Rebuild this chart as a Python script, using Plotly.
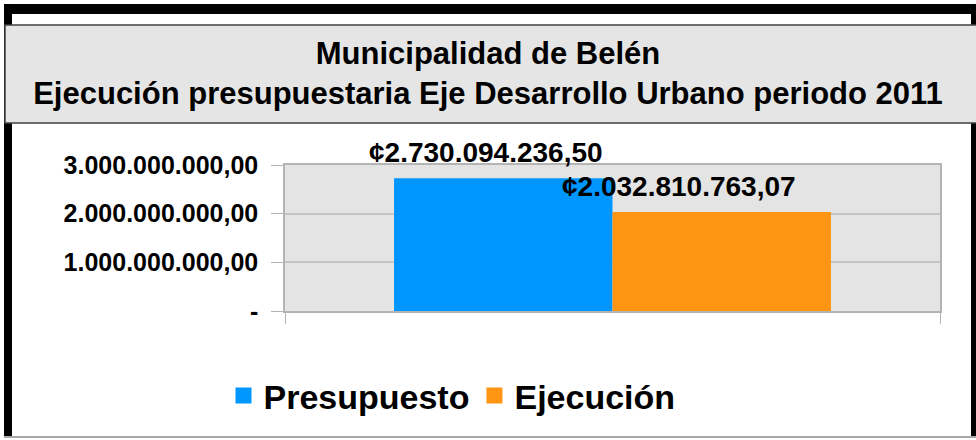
import plotly.graph_objects as go

# ---- data ----
categories = ["Eje Desarrollo Urbano"]
series_names = ["Presupuesto", "Ejecución"]
presupuesto = [2730094236.50]
ejecucion = [2032810763.07]
value_labels = ["¢2.730.094.236,50", "¢2.032.810.763,07"]
y_tickvals = [0, 1000000000, 2000000000, 3000000000]
y_ticktext = ["-", "1.000.000.000,00", "2.000.000.000,00", "3.000.000.000,00"]
title_text = "Municipalidad de Belén<br>Ejecución presupuestaria Eje Desarrollo Urbano periodo 2011"

colors = ["#0096FF", "#FF9512"]
FONT = "Liberation Sans, Arial, sans-serif"

W, H = 976, 440
ML, MR, MT, MB = 285, 36, 165, 129
PW, PH = W - ML - MR, H - MT - MB


def fx(px):
    return (px - ML) / PW


def fy(py):
    return (H - MB - py) / PH


fig = go.Figure()
for name, vals, col in zip(series_names, [presupuesto, ejecucion], colors):
    fig.add_trace(go.Bar(x=categories, y=vals, name=name, showlegend=False,
                         marker=dict(color=col, line=dict(width=0))))
# legend entries (larger square swatches)
for name, col in zip(series_names, colors):
    fig.add_trace(go.Scatter(x=[None], y=[None], mode="markers", name=name,
                             marker=dict(symbol="square", size=20, color=col),
                             hoverinfo="skip"))

# value labels
label_shifts = [(-127, 26), (66, 26)]
for vals, txt, (xs, ys) in zip([presupuesto, ejecucion], value_labels, label_shifts):
    fig.add_annotation(x=categories[0], y=vals[0], xref="x", yref="y", text=txt,
                       showarrow=False, xanchor="center", yanchor="middle",
                       xshift=xs, yshift=ys,
                       font=dict(family=FONT, size=28, color="black", weight="bold"))

shapes = [
    # black frame
    dict(type="rect", xref="paper", yref="paper", x0=fx(4), x1=fx(976), y0=fy(14), y1=fy(4),
         fillcolor="black", line=dict(width=0), layer="below"),
    dict(type="rect", xref="paper", yref="paper", x0=fx(4), x1=fx(12), y0=fy(437), y1=fy(4),
         fillcolor="black", line=dict(width=0), layer="below"),
    dict(type="rect", xref="paper", yref="paper", x0=fx(971), x1=fx(976), y0=fy(437), y1=fy(4),
         fillcolor="black", line=dict(width=0), layer="below"),
    dict(type="line", xref="paper", yref="paper", x0=fx(4), x1=fx(976), y0=fy(437), y1=fy(437),
         line=dict(color="#a8a8a8", width=2), layer="below"),
    # title box
    dict(type="rect", xref="paper", yref="paper", x0=fx(5), x1=fx(985), y0=fy(123), y1=fy(25),
         fillcolor="#e5e5e5", line=dict(color="#404040", width=1.5), layer="below"),
]

fig.update_layout(
    width=W, height=H,
    margin=dict(l=ML, r=MR, t=MT, b=MB, pad=0),
    paper_bgcolor="white",
    plot_bgcolor="#e4e4e4",
    barmode="group", bargap=0.333, bargroupgap=0,
    font=dict(family=FONT, color="black"),
    title=dict(text=title_text, x=488 / W, xref="container", xanchor="center",
               y=1 - 64 / H, yref="container", yanchor="middle",
               font=dict(family=FONT, size=31, color="black", weight="bold")),
    shapes=shapes,
    showlegend=True,
    legend=dict(orientation="h", xref="container", yref="container",
                x=452 / W, xanchor="center", y=1 - 396 / H, yanchor="middle",
                font=dict(family=FONT, size=34, color="black", weight="bold"),
                itemsizing="trace",
                bgcolor="rgba(0,0,0,0)", itemclick=False, itemdoubleclick=False),
    xaxis=dict(showticklabels=False, tickson="boundaries", ticks="outside", ticklen=11,
               tickcolor="#b4b4b4", showline=True, linecolor="#b4b4b4", linewidth=1.5,
               mirror=True, showgrid=False, fixedrange=True),
    yaxis=dict(range=[0, 3000000000], tickvals=y_tickvals, ticktext=y_ticktext,
               ticks="outside", ticklen=12, tickcolor="#b4b4b4",
               ticklabelstandoff=8,
               tickfont=dict(family=FONT, size=25, color="black", weight="bold"),
               showline=True, linecolor="#b4b4b4", linewidth=1.5, mirror=True,
               showgrid=True, gridcolor="#c4c4c4", gridwidth=1.5, zeroline=False,
               fixedrange=True),
)

fig.write_html("out.html", config={"displayModeBar": False},
               post_script="document.body.style.margin='0';document.body.style.overflow='hidden';")
